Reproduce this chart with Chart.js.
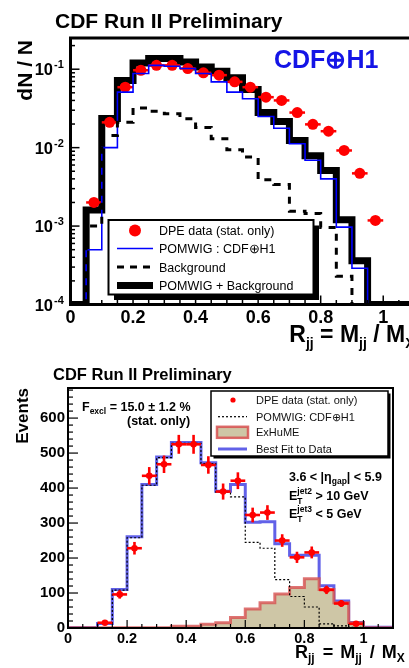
<!DOCTYPE html>
<html><head><meta charset="utf-8">
<script src="https://cdn.jsdelivr.net/npm/chart.js@4.4.0/dist/chart.umd.min.js"></script>
<style>
html,body{margin:0;padding:0;background:#fff;width:409px;height:668px;overflow:hidden;}
canvas{position:absolute;left:0;}
#top{top:0;}
#bot{top:355px;}
</style></head><body>
<canvas id="top" width="430" height="355"></canvas>
<canvas id="bot" width="420" height="313"></canvas>
<script>
// ---------- shared binning (lower bin edges, width 0.05) ----------
const binLow = [0.00,0.05,0.10,0.15,0.20,0.25,0.30,0.35,0.40,0.45,0.50,0.55,0.60,0.65,0.70,0.75,0.80,0.85,0.90,0.95,1.00,1.05];
const binHigh = 1.10;
const xTicks = [0,0.2,0.4,0.6,0.8,1.0];

// ---------- top panel: dN/N (log scale) ----------
const topDpeX = [0.075,0.125,0.175,0.225,0.275,0.325,0.375,0.425,0.475,0.525,0.575,0.625,0.675,0.725,0.775,0.825,0.875,0.925,0.975];
const topDpe  = [0.0020,0.021,0.059,0.097,0.112,0.112,0.102,0.090,0.084,0.069,0.059,0.044,0.040,0.028,0.0198,0.0162,0.0092,0.0047,0.00118];
const topPomwig     = [0,0.00050,0.010,0.051,0.088,0.112,0.109,0.102,0.088,0.069,0.051,0.042,0.025,0.0177,0.0112,0.0069,0.0040,0.00097,0.00029,0,0,0];
const topBackground = [0,0.0010,0.0143,0.021,0.032,0.029,0.027,0.0234,0.018,0.013,0.0094,0.0076,0.0039,0.0034,0.00155,0.00145,0.00096,0.00023,0,0,0,0];
const topSum        = [0,0.0016,0.0235,0.072,0.120,0.137,0.137,0.124,0.107,0.094,0.078,0.055,0.028,0.0216,0.0123,0.0079,0.0051,0.0012,0.00036,0,0,0];
const topYTicks = [1e-4,1e-3,1e-2,1e-1];

// ---------- bottom panel: Events ----------
const botDataX = [0.125,0.175,0.225,0.275,0.325,0.375,0.425,0.475,0.525,0.575,0.625,0.675,0.725,0.775,0.825,0.875,0.925,0.975];
const botData  = [15,96,228,435,468,525,525,466,390,421,323,330,250,202,216,109,70,12];
const botErr   = [6,12,18,25,25,27,27,25,23,24,21,21,18,16,17,12,10,5];
const botPomwig = [1,1,13,108,258,408,487,528,528,470,388,375,245,228,138,90,60,12,6,2,1,1];
const botExhume = [1,1,1,1,1,1,1,5,5,11,15,30,54,72,97,116,141,110,72,15,1,1];
const botFit    = [1,1,13,110,261,410,489,530,530,472,391,410,302,304,241,208,208,121,77,16,2,2];
const botYTicks = [0,100,200,300,400,500,600];

const FONT = '"Liberation Sans", Arial, Helvetica, sans-serif';
const TOP_MIN = 1e-4, TOP_MAX = 0.25;

// bin-edge points; 'before' stepping keeps each value flat across its own bin
function histPoints(vals, floor) {
  const pts = binLow.map((x, i) => ({x: x, y: vals[i] > 0 ? vals[i] : floor}));
  pts.push({x: binHigh, y: pts[pts.length - 1].y});
  return pts;
}
function f(size, weight) { return (weight || 'bold') + ' ' + size + 'px ' + FONT; }
function txt(ctx, s, x, y, size, weight, color, align) {
  ctx.font = f(size, weight); ctx.fillStyle = color || '#000';
  ctx.textAlign = align || 'left'; ctx.textBaseline = 'alphabetic';
  ctx.fillText(s, x, y);
}
// rich text: parts {t,s,dy} | stacked {sup,sub,s,up,down} | gap {g}
function rich(ctx, x, y, parts, align, weight, color) {
  ctx.textBaseline = 'alphabetic'; ctx.textAlign = 'left'; ctx.fillStyle = color || '#000';
  let w = 0;
  parts.forEach(p => {
    if (p.g !== undefined) { p.w = p.g; }
    else {
      ctx.font = f(p.s, weight);
      if (p.sup !== undefined) p.w = Math.max(ctx.measureText(p.sup).width, ctx.measureText(p.sub).width);
      else p.w = ctx.measureText(p.t).width;
    }
    w += p.w;
  });
  let cx = align === 'right' ? x - w : (align === 'center' ? x - w / 2 : x);
  parts.forEach(p => {
    if (p.g === undefined) {
      ctx.font = f(p.s, weight);
      if (p.sup !== undefined) { ctx.fillText(p.sup, cx, y + p.up); ctx.fillText(p.sub, cx, y + p.down); }
      else ctx.fillText(p.t, cx, y + (p.dy || 0));
    }
    cx += p.w;
  });
}
function seg(ctx, x1, y1, x2, y2) { ctx.beginPath(); ctx.moveTo(x1, y1); ctx.lineTo(x2, y2); ctx.stroke(); }

// ================= TOP CHART =================
const topDeco = {
  id: 'topDeco',
  afterDatasetDraw(chart, args) {
    if (args.index !== 1) return;
    const {ctx, scales: {x, y}} = chart;
    ctx.save(); ctx.strokeStyle = '#ff0000'; ctx.lineWidth = 2.5;
    topDpeX.forEach((v, i) => {
      const py = y.getPixelForValue(topDpe[i]);
      seg(ctx, x.getPixelForValue(v - 0.025), py, x.getPixelForValue(v + 0.025), py);
    });
    ctx.restore();
  },
  afterDraw(chart) {
    const {ctx, chartArea: a, scales: {x, y}} = chart;
    ctx.save();
    ctx.strokeStyle = '#000'; ctx.lineWidth = 1.5;
    for (let k = 0; k <= 22; k++) {
      const v = k * 0.05, px = x.getPixelForValue(v);
      const major = Math.abs(v / 0.2 - Math.round(v / 0.2)) < 1e-6;
      seg(ctx, px, a.bottom, px, a.bottom - (major ? 9 : 4.5));
    }
    topYTicks.forEach(d => {
      for (let k = 1; k <= 9; k++) {
        const v = k * d; if (v > TOP_MAX) continue;
        const py = y.getPixelForValue(v);
        seg(ctx, a.left, py, a.left + (k === 1 ? 9 : 4.5), py);
      }
    });
    ctx.lineWidth = 3;
    ctx.strokeRect(a.left, a.top, a.right - a.left, a.bottom - a.top);
    topYTicks.forEach(v => {
      const py = y.getPixelForValue(v);
      txt(ctx, '10', 53, py + 6, 16.5, 'bold', '#000', 'right');
      txt(ctx, String(Math.round(Math.log10(v))), 54, py - 1, 11, 'bold', '#000', 'left');
    });
    txt(ctx, 'CDF Run II Preliminary', 55, 28, 21);
    ctx.save(); ctx.translate(32, 40); ctx.rotate(-Math.PI / 2);
    txt(ctx, 'dN / N', 0, 0, 21, 'bold', '#000', 'right'); ctx.restore();
    txt(ctx, 'CDF\u2295H1', 274, 68, 25, 'bold', '#1414e6');
    rich(ctx, a.right, 341.5, [
      {t: 'R', s: 23}, {t: 'jj', s: 14, dy: 6}, {t: ' = M', s: 23}, {t: 'jj', s: 14, dy: 6},
      {t: ' / M', s: 23}, {t: 'X', s: 14, dy: 6}], 'right');
    // legend
    ctx.fillStyle = '#000'; ctx.fillRect(114, 225.5, 205, 74.5);
    ctx.fillStyle = '#fff'; ctx.fillRect(108.5, 220, 205, 74.5);
    ctx.lineWidth = 2; ctx.strokeStyle = '#000'; ctx.strokeRect(108.5, 220, 205, 74.5);
    const ly = [230.5, 248.5, 267, 285.5];
    ctx.fillStyle = '#ff0000'; ctx.beginPath(); ctx.arc(135, ly[0], 6, 0, 2 * Math.PI); ctx.fill();
    ctx.strokeStyle = '#0000ff'; ctx.lineWidth = 1.6; seg(ctx, 117, ly[1], 153, ly[1]);
    ctx.strokeStyle = '#000'; ctx.lineWidth = 3; ctx.setLineDash([7, 6]); seg(ctx, 117, ly[2], 153, ly[2]); ctx.setLineDash([]);
    ctx.lineWidth = 7; seg(ctx, 117, ly[3], 153, ly[3]);
    const names = ['DPE data (stat. only)', 'POMWIG : CDF\u2295H1', 'Background', 'POMWIG + Background'];
    names.forEach((n, i) => txt(ctx, n, 159, ly[i] + 4.5, 12.5, 'normal', '#000'));
    ctx.restore();
  }
};

new Chart(document.getElementById('top'), {
  type: 'line',
  data: {datasets: [
    {label: 'POMWIG + Background', data: histPoints(topSum, TOP_MIN), borderColor: '#000', borderWidth: 7,
     stepped: 'before', pointRadius: 0, fill: false, borderJoinStyle: 'miter', order: 4},
    {label: 'DPE data (stat. only)', data: topDpeX.map((v, i) => ({x: v, y: topDpe[i]})), showLine: false,
     pointRadius: 5.5, pointBackgroundColor: '#ff0000', pointBorderWidth: 0, order: 3},
    {label: 'POMWIG : CDF\u2295H1', data: histPoints(topPomwig, TOP_MIN), borderColor: '#0000ff', borderWidth: 1.6,
     stepped: 'before', pointRadius: 0, fill: false, borderJoinStyle: 'miter', order: 2},
    {label: 'Background', data: histPoints(topBackground, TOP_MIN), borderColor: '#000', borderWidth: 3,
     borderDash: [7, 7], stepped: 'before', pointRadius: 0, fill: false, order: 1}
  ]},
  options: {
    responsive: false, animation: false, events: [],
    layout: {padding: {top: 38, left: 0, right: 15.5, bottom: 0}},
    plugins: {legend: {display: false}, tooltip: {enabled: false}},
    scales: {
      x: {type: 'linear', min: 0, max: binHigh,
          grid: {display: false, drawTicks: false}, border: {display: false},
          afterBuildTicks(s) { s.ticks = xTicks.map(v => ({value: v})); },
          afterFit(s) { s.height = 50.5; },
          ticks: {font: {family: FONT, size: 18, weight: 'bold'}, color: '#000', padding: 2.5,
                  maxRotation: 0, autoSkip: false, callback: v => String(+Number(v).toFixed(1))}},
      y: {type: 'logarithmic', min: TOP_MIN, max: TOP_MAX,
          grid: {display: false, drawTicks: false}, border: {display: false},
          ticks: {display: false}, afterFit(s) { s.width = 70.5; }}
    }
  },
  plugins: [topDeco]
});

// ================= BOTTOM CHART =================
const botDeco = {
  id: 'botDeco',
  afterDatasetDraw(chart, args) {
    if (args.index !== 3) return;
    const {ctx, scales: {x, y}} = chart;
    ctx.save(); ctx.strokeStyle = '#ff0000'; ctx.lineWidth = 2.6;
    botDataX.forEach((v, i) => {
      const px = x.getPixelForValue(v), py = y.getPixelForValue(botData[i]);
      seg(ctx, x.getPixelForValue(v - 0.025), py, x.getPixelForValue(v + 0.025), py);
      seg(ctx, px, y.getPixelForValue(botData[i] - botErr[i]), px, y.getPixelForValue(botData[i] + botErr[i]));
    });
    ctx.restore();
  },
  afterDraw(chart) {
    const {ctx, chartArea: a, scales: {x, y}} = chart;
    ctx.save();
    ctx.strokeStyle = '#000'; ctx.lineWidth = 1.2;
    for (let k = 0; k <= 22; k++) {
      const v = k * 0.05, px = x.getPixelForValue(v);
      const major = Math.abs(v / 0.2 - Math.round(v / 0.2)) < 1e-6;
      seg(ctx, px, a.bottom, px, a.bottom - (major ? 8 : 4));
    }
    for (let v = 0; v <= 680; v += 20) {
      const py = y.getPixelForValue(v);
      seg(ctx, a.left, py, a.left + (v % 100 === 0 ? 10 : 5), py);
    }
    ctx.lineWidth = 2;
    ctx.strokeRect(a.left, a.top, a.right - a.left, a.bottom - a.top);
    txt(ctx, 'CDF Run II Preliminary', 53, 25, 16.5);
    ctx.save(); ctx.translate(28, 33); ctx.rotate(-Math.PI / 2);
    txt(ctx, 'Events', 0, 0, 17, 'bold', '#000', 'right'); ctx.restore();
    rich(ctx, 295, 303, [
      {t: 'R', s: 18}, {t: 'jj', s: 12, dy: 4}, {g: 3}, {t: ' = ', s: 18}, {g: 2}, {t: 'M', s: 18},
      {t: 'jj', s: 12, dy: 4}, {g: 3}, {t: ' / ', s: 18}, {g: 2}, {t: 'M', s: 18}, {t: 'X', s: 12, dy: 4}], 'left');
    rich(ctx, 82, 56, [{t: 'F', s: 12.5}, {t: 'excl', s: 8.5, dy: 3}, {t: ' = 15.0 \u00b1 1.2 %', s: 12.5}], 'left');
    txt(ctx, '(stat. only)', 127, 69.5, 12.5);
    rich(ctx, 289, 125.5, [{t: '3.6 < |\u03b7', s: 12.5}, {t: 'gap', s: 8.5, dy: 3}, {t: '| < 5.9', s: 12.5}], 'left');
    rich(ctx, 289, 144.5, [{t: 'E', s: 12.5}, {sup: 'jet2', sub: 'T', s: 8.5, up: -6, down: 4}, {t: ' > 10 GeV', s: 12.5}], 'left');
    rich(ctx, 289, 162.5, [{t: 'E', s: 12.5}, {sup: 'jet3', sub: 'T', s: 8.5, up: -6, down: 4}, {t: ' < 5 GeV', s: 12.5}], 'left');
    // legend
    ctx.fillStyle = '#000'; ctx.fillRect(213.5, 38.5, 177, 65);
    ctx.fillStyle = '#fff'; ctx.fillRect(211, 36, 177, 65);
    ctx.lineWidth = 1.5; ctx.strokeStyle = '#000'; ctx.strokeRect(211, 36, 177, 65);
    const ly = [45, 61.7, 77.3, 94];
    ctx.fillStyle = '#ff0000'; ctx.beginPath(); ctx.arc(233, ly[0], 2.6, 0, 2 * Math.PI); ctx.fill();
    ctx.strokeStyle = '#000'; ctx.lineWidth = 1.2; ctx.setLineDash([2, 2]); seg(ctx, 218, ly[1], 247, ly[1]); ctx.setLineDash([]);
    ctx.fillStyle = '#cec6a6'; ctx.fillRect(217, ly[2] - 5.5, 31, 11);
    ctx.strokeStyle = 'rgba(215,80,80,0.85)'; ctx.lineWidth = 2.5; ctx.strokeRect(217, ly[2] - 5.5, 31, 11);
    ctx.strokeStyle = 'rgba(80,80,230,0.9)'; ctx.lineWidth = 3; seg(ctx, 218, ly[3], 247, ly[3]);
    const names = ['DPE data (stat. only)', 'POMWIG: CDF\u2295H1', 'ExHuME', 'Best Fit to Data'];
    names.forEach((n, i) => txt(ctx, n, 256, ly[i] + 4, 11, 'normal', '#111'));
    ctx.restore();
  }
};

new Chart(document.getElementById('bot'), {
  type: 'line',
  data: {datasets: [
    {label: 'Best Fit to Data', data: histPoints(botFit, 0), borderColor: 'rgba(80,80,230,0.9)', borderWidth: 3,
     stepped: 'before', pointRadius: 0, fill: false, borderJoinStyle: 'miter', order: 4},
    {label: 'ExHuME', data: histPoints(botExhume, 0), borderColor: 'rgba(215,80,80,0.8)', borderWidth: 3,
     backgroundColor: '#cec6a6', fill: 'origin', stepped: 'before', pointRadius: 0, borderJoinStyle: 'miter', order: 3},
    {label: 'POMWIG: CDF\u2295H1', data: histPoints(botPomwig, 0), borderColor: '#000', borderWidth: 1.2,
     borderDash: [2, 2], stepped: 'before', pointRadius: 0, fill: false, order: 2},
    {label: 'DPE data (stat. only)', data: botDataX.map((v, i) => ({x: v, y: botData[i]})), showLine: false,
     pointRadius: 3.3, pointBackgroundColor: '#ff0000', pointBorderWidth: 0, order: 1}
  ]},
  options: {
    responsive: false, animation: false, events: [],
    layout: {padding: {top: 33, left: 0, right: 27, bottom: 0}},
    plugins: {legend: {display: false}, tooltip: {enabled: false}},
    scales: {
      x: {type: 'linear', min: 0, max: binHigh,
          grid: {display: false, drawTicks: false}, border: {display: false},
          afterBuildTicks(s) { s.ticks = xTicks.map(v => ({value: v})); },
          afterFit(s) { s.height = 40; },
          ticks: {font: {family: FONT, size: 14.5, weight: 'bold'}, color: '#000', padding: 2,
                  maxRotation: 0, autoSkip: false, callback: v => String(+Number(v).toFixed(1))}},
      y: {type: 'linear', min: 0, max: 686,
          grid: {display: false, drawTicks: false}, border: {display: false},
          afterBuildTicks(s) { s.ticks = botYTicks.map(v => ({value: v})); },
          afterFit(s) { s.width = 68; },
          ticks: {font: {family: FONT, size: 15, weight: 'bold'}, color: '#000', padding: 3}}
    }
  },
  plugins: [botDeco]
});
</script>
</body></html>
